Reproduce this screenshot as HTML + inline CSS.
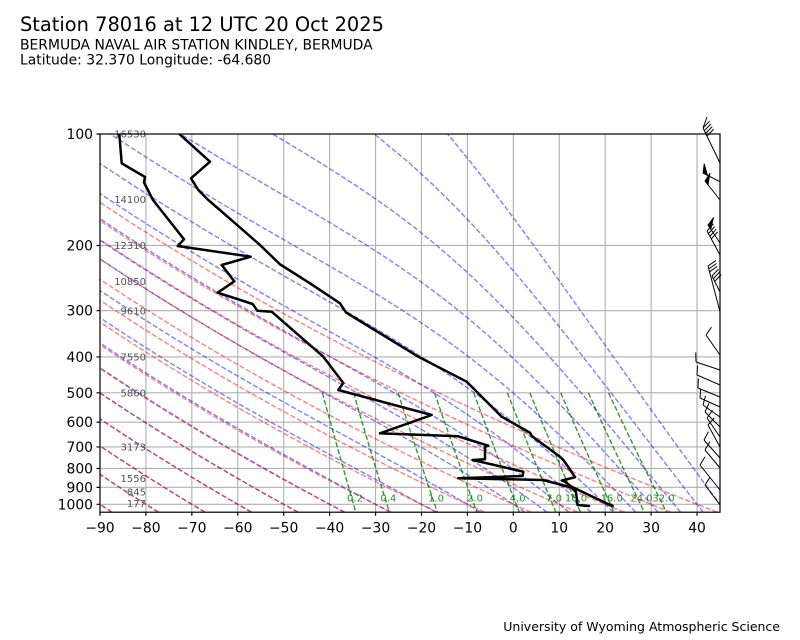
<!DOCTYPE html>
<html><head><meta charset="utf-8"><style>
html,body{margin:0;padding:0;background:#fff;}
svg{display:block;font-family:"DejaVu Sans","Liberation Sans",sans-serif;}
</style></head><body>
<svg id="sv" width="800" height="640" viewBox="0 0 800 640" xmlns="http://www.w3.org/2000/svg">
<defs><clipPath id="cp"><rect x="100" y="134" width="620" height="378.2"/></clipPath></defs>
<rect width="800" height="640" fill="#fff"/>
<text x="20" y="31" font-size="19.4" fill="#000">Station 78016 at 12 UTC 20 Oct 2025</text>
<text x="20" y="49.3" font-size="13.9" fill="#000">BERMUDA NAVAL AIR STATION KINDLEY, BERMUDA</text>
<text x="20" y="64.3" font-size="13.9" fill="#000">Latitude: 32.370 Longitude: -64.680</text>
<text x="780" y="631" font-size="12.5" text-anchor="end" fill="#000">University of Wyoming Atmospheric Science</text>

<g stroke="#b0b0b0" stroke-width="1.1">
<line x1="145.93" y1="134" x2="145.93" y2="512.2"/><line x1="191.85" y1="134" x2="191.85" y2="512.2"/>
<line x1="237.78" y1="134" x2="237.78" y2="512.2"/><line x1="283.70" y1="134" x2="283.70" y2="512.2"/>
<line x1="329.63" y1="134" x2="329.63" y2="512.2"/><line x1="375.56" y1="134" x2="375.56" y2="512.2"/>
<line x1="421.48" y1="134" x2="421.48" y2="512.2"/><line x1="467.41" y1="134" x2="467.41" y2="512.2"/>
<line x1="513.33" y1="134" x2="513.33" y2="512.2"/><line x1="559.26" y1="134" x2="559.26" y2="512.2"/>
<line x1="605.19" y1="134" x2="605.19" y2="512.2"/><line x1="651.11" y1="134" x2="651.11" y2="512.2"/>
<line x1="697.04" y1="134" x2="697.04" y2="512.2"/>
<line x1="100" y1="245.47" x2="720" y2="245.47"/><line x1="100" y1="310.68" x2="720" y2="310.68"/>
<line x1="100" y1="356.94" x2="720" y2="356.94"/><line x1="100" y1="392.83" x2="720" y2="392.83"/>
<line x1="100" y1="422.15" x2="720" y2="422.15"/><line x1="100" y1="446.94" x2="720" y2="446.94"/>
<line x1="100" y1="468.42" x2="720" y2="468.42"/><line x1="100" y1="487.36" x2="720" y2="487.36"/>
<line x1="100" y1="504.3" x2="720" y2="504.3"/>
</g>

<g clip-path="url(#cp)" fill="none" stroke-width="1.39" stroke-dasharray="5.1 2.2">
<path id="moist" stroke="#0000ff" stroke-opacity="0.5"/>
<path id="dry" stroke="#ff0000" stroke-opacity="0.5"/>
<path id="mix" stroke="#008000" stroke-opacity="0.8"/>
</g>

<g font-size="10" fill="#008000" fill-opacity="0.85" text-anchor="middle">
<text x="355" y="501.7">0.2</text><text x="388.3" y="501.7">0.4</text>
<text x="436" y="501.7">1.0</text><text x="475" y="501.7">2.0</text>
<text x="517.7" y="501.7">4.0</text><text x="554" y="501.7">7.0</text>
<text x="576" y="501.7">10.0</text><text x="611.7" y="501.7">16.0</text>
<text x="641.5" y="501.7">24.0</text><text x="663.5" y="501.7">32.0</text>
</g>

<g font-size="10" fill="#555" text-anchor="end">
<text x="146" y="137.4">16530</text><text x="146" y="202.8">14100</text>
<text x="146" y="249.1">12310</text><text x="146" y="285">10850</text>
<text x="146" y="314.3">9610</text><text x="146" y="360.5">7550</text>
<text x="146" y="396.4">5860</text><text x="146" y="450.5">3173</text>
<text x="146" y="481.8">1556</text><text x="146" y="495.3">845</text>
<text x="146" y="506.8">177</text>
</g>

<g clip-path="url(#cp)" fill="none" stroke="#000" stroke-width="2.5" stroke-linejoin="round" stroke-linecap="round">
<polyline points="179.3,134 210,161.7 191,178.3 198.3,190 208.3,200 233.3,221.7 260,245 280,264.3 310,283.3 340,303.3 346,312.5 418.3,356.7 466.7,381.7 475,390 501.7,416.7 530,432.7 531.7,436 560,456.7 563.3,460 569.3,468.3 575,477.3 561.7,480.5 565,481.7 571.7,486.7 610,505 612.7,506 610,504.5"/>
<polyline points="119.3,134 121.7,163.3 145,177 144,182.5 153,200 184,239.3 177.7,246 250.7,256.7 221.7,265 234.3,281.3 217.7,292.7 252.7,304 257.3,310.7 271.7,311.7 323.3,356.7 343.3,383 338.3,390 431.7,415 380,433.3 458.3,436.3 466.7,439 488.3,445.7 485,446.7 485,459.3 472.7,460 523.3,471.7 522.7,476 458.3,478.3 543,480 571.7,487.5 576,492 577.5,505 589,506"/>
</g>

<g stroke="#000" stroke-width="1.2" fill="none">
<rect x="100" y="134" width="620" height="378.2"/>
<path d="M96.5,134H100M96.5,245.47H100M96.5,310.68H100M96.5,356.94H100M96.5,392.83H100M96.5,422.15H100M96.5,446.94H100M96.5,468.42H100M96.5,487.36H100M96.5,504.3H100"/>
<path d="M100,512.2v3.5M145.93,512.2v3.5M191.85,512.2v3.5M237.78,512.2v3.5M283.70,512.2v3.5M329.63,512.2v3.5M375.56,512.2v3.5M421.48,512.2v3.5M467.41,512.2v3.5M513.33,512.2v3.5M559.26,512.2v3.5M605.19,512.2v3.5M651.11,512.2v3.5M697.04,512.2v3.5"/>
</g>

<g font-size="13.9" fill="#000" text-anchor="end">
<text x="93" y="139">100</text><text x="93" y="250.5">200</text><text x="93" y="315.7">300</text>
<text x="93" y="361.9">400</text><text x="93" y="397.8">500</text><text x="93" y="427.2">600</text>
<text x="93" y="451.9">700</text><text x="93" y="473.4">800</text><text x="93" y="492.4">900</text>
<text x="93" y="509.3">1000</text>
</g>
<g font-size="13.9" fill="#000" text-anchor="middle">
<text x="100" y="532.5">−90</text><text x="145.93" y="532.5">−80</text><text x="191.85" y="532.5">−70</text>
<text x="237.78" y="532.5">−60</text><text x="283.70" y="532.5">−50</text><text x="329.63" y="532.5">−40</text>
<text x="375.56" y="532.5">−30</text><text x="421.48" y="532.5">−20</text><text x="467.41" y="532.5">−10</text>
<text x="513.33" y="532.5">0</text><text x="559.26" y="532.5">10</text><text x="605.19" y="532.5">20</text>
<text x="651.11" y="532.5">30</text><text x="697.04" y="532.5">40</text>
</g>

<path id="barbs" stroke="#000" stroke-width="1" fill="none"/>
<path id="flags" fill="#000" stroke="#000" stroke-width="0.8"/>
</svg>
<script>
(function(){
var Rd=287.04749, Lv=2.50084e6, Cp=1004.6662, eps=0.6219569, K=Rd/Cp;
function X(T){return 100+(T+90)*620/135;}
function Y(p){return 134+370.3*Math.log10(p/100);}
var ps=[],i,j;
for(i=0;i<50;i++) ps.push(1050+(100-1050)*i/49);
function pt(T,p){return X(T).toFixed(2)+','+Y(p).toFixed(2);}
var d='';
for(var t0=-90;t0<=40;t0+=10){
  var a=[];
  for(i=0;i<ps.length;i++){a.push(pt((t0+273.15)*Math.pow(ps[i]/1000,K)-273.15,ps[i]));}
  d+='M'+a.join('L');
}
document.getElementById('dry').setAttribute('d',d);
function es(T){return 6.112*Math.exp(17.67*(T-273.15)/(T-29.65));}
function f(p,T){var e=es(T);var rs=eps*e/(p-e);return (Rd*T+Lv*rs)/(Cp+Lv*Lv*rs*eps/(Rd*T*T))/p;}
function moist(T0,p){
  var n=Math.max(1,Math.ceil(Math.abs(p-1000)/2)),h=(p-1000)/n,T=T0,pp=1000;
  for(var k=0;k<n;k++){
    var k1=f(pp,T),k2=f(pp+h/2,T+h/2*k1),k3=f(pp+h/2,T+h/2*k2),k4=f(pp+h,T+h*k3);
    T+=h/6*(k1+2*k2+2*k3+k4);pp+=h;
  }
  return T;
}
var mt=[];
for(t0=-90;t0<0;t0+=10) mt.push(t0);
for(t0=0;t0<=45;t0+=5) mt.push(t0);
d='';
for(j=0;j<mt.length;j++){
  var b=[];
  for(i=0;i<ps.length;i++){b.push(pt(moist(mt[j]+273.15,ps[i])-273.15,ps[i]));}
  d+='M'+b.join('L');
}
document.getElementById('moist').setAttribute('d',d);
var ws=[0.0002,0.0004,0.001,0.002,0.004,0.007,0.01,0.016,0.024,0.032];
var pm=[];for(i=0;i<50;i++) pm.push(500+(1050-500)*i/49);
d='';
for(j=0;j<ws.length;j++){
  var c=[];
  for(i=0;i<pm.length;i++){
    var e=pm[i]*ws[j]/(eps+ws[j]); var l=Math.log(e/6.112);
    c.push(pt(243.5*l/(17.67-l),pm[i]));
  }
  d+='M'+c.join('L');
}
document.getElementById('mix').setAttribute('d',d);
var ang=70*Math.PI/180, ca=Math.cos(ang), sa=Math.sin(ang);
function geo(by,tx,ty){var dx=tx-720,dy=ty-by,L=Math.hypot(dx,dy),ux=dx/L,uy=dy/L;
  return {ux:ux,uy:uy,fx:(ux*ca-uy*sa)*9.5,fy:(ux*sa+uy*ca)*9.5};}
var bd='',fd='';
function barb(by,tx,ty,nf){
  var g=geo(by,tx,ty);
  bd+='M720,'+by+'L'+tx+','+ty;
  for(var q=0;q<nf;q++){var sx=tx-g.ux*3*q,sy=ty-g.uy*3*q;bd+='M'+sx.toFixed(2)+','+sy.toFixed(2)+'l'+g.fx.toFixed(2)+','+g.fy.toFixed(2);}
}
function flag(by,tx,ty){
  var g=geo(by,tx,ty);
  bd+='M720,'+by+'L'+tx+','+ty;
  fd+='M'+tx+','+ty+'L'+(tx+g.fx).toFixed(2)+','+(ty+g.fy).toFixed(2)+'L'+(tx-g.ux*5).toFixed(2)+','+(ty-g.uy*5).toFixed(2)+'Z';
}
barb(163,703,128,4);
bd+='M703,128L707,117';
flag(181.7,703,173);
flag(200,705,181);
flag(243,708,225);
barb(255,707,231,4);
barb(292,712,276,3);
barb(311.7,708,266,3);
barb(355,706,335,1);
barb(370,696,362,1);
barb(385,697,375,1);
barb(397,698,388,1);
barb(407,700,398,1);
barb(417,703,405,1);
barb(427,705,412,1);
barb(437,707,418,1);
barb(447,708,425,1);
barb(458,704,440,1);
barb(468,705,450,1);
barb(490,700,465,1);
barb(505,705,485,1);
document.getElementById('barbs').setAttribute('d',bd);
document.getElementById('flags').setAttribute('d',fd);
})();
</script>
</body></html>
